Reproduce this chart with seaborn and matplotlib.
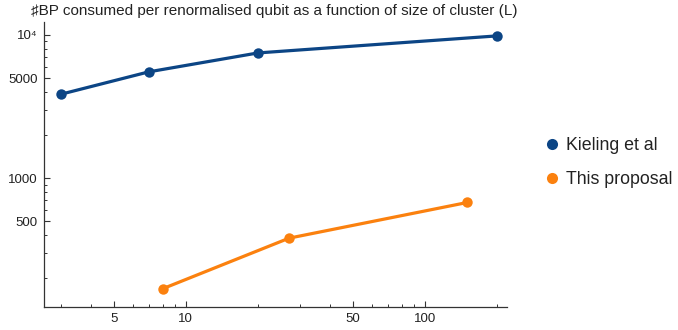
import matplotlib
matplotlib.use("Agg")
import matplotlib.pyplot as plt
from matplotlib.lines import Line2D
from matplotlib.ticker import FixedLocator, FixedFormatter, NullFormatter
import numpy as np
import pandas as pd
import seaborn as sns

# ---- data ----
series_names = ["Kieling et al", "This proposal"]
kieling_L = [3, 7, 20, 200]
kieling_bp = [3850, 5520, 7480, 9840]
proposal_L = [8, 27, 150]
proposal_bp = [169, 381, 676]
colors = ["#0c4585", "#fb810f"]

title = "\u266fBP consumed per renormalised qubit as a function of size of cluster (L)"
x_ticks = [5, 10, 50, 100]
x_labels = ["5", "10", "50", "100"]
y_ticks = [500, 1000, 5000, 10000]
y_labels = ["500", "1000", "5000", "10\u2074"]

df = pd.DataFrame({
    "L": kieling_L + proposal_L,
    "BP": kieling_bp + proposal_bp,
    "series": [series_names[0]] * len(kieling_L) + [series_names[1]] * len(proposal_L),
})

sns.set_style("white")
plt.rcParams["font.family"] = ["Liberation Sans", "DejaVu Sans"]

fig = plt.figure(figsize=(6.78, 3.30), dpi=100)
ax = fig.add_axes([43.5 / 678, 23 / 330, (507 - 43.5) / 678, (307 - 22) / 330])

sns.lineplot(data=df, x="L", y="BP", hue="series", palette=colors, marker="o",
             markersize=7.5, markeredgewidth=0, linewidth=2.3, ax=ax, legend=False,
             sort=True)

ax.set_xscale("log")
ax.set_yscale("log")
ax.set_xlim(2.54, 220)
ax.set_ylim(126, 12300)

for s in ["top", "right"]:
    ax.spines[s].set_visible(False)
for s in ["left", "bottom"]:
    ax.spines[s].set_color("#333333")
    ax.spines[s].set_linewidth(0.9)

ax.xaxis.set_major_locator(FixedLocator(x_ticks))
ax.xaxis.set_major_formatter(FixedFormatter(x_labels))
ax.yaxis.set_major_locator(FixedLocator(y_ticks))
ax.yaxis.set_major_formatter(FixedFormatter(y_labels))
xminor = [m * 10 ** e for e in range(0, 3) for m in range(1, 10)]
xminor = [v for v in xminor if v not in x_ticks]
yminor = [m * 10 ** e for e in range(2, 5) for m in range(1, 10)]
yminor = [v for v in yminor if v not in y_ticks]
ax.xaxis.set_minor_locator(FixedLocator(xminor))
ax.yaxis.set_minor_locator(FixedLocator(yminor))
ax.xaxis.set_minor_formatter(NullFormatter())
ax.yaxis.set_minor_formatter(NullFormatter())

ax.tick_params(which="major", direction="in", length=4, width=0.8, color="#333333",
               labelsize=9.5, pad=4, left=True, bottom=True, labelcolor="#222222")
ax.tick_params(which="minor", direction="in", length=2.5, width=0.7, color="#333333",
               left=True, bottom=True)
ax.set_xlabel("")
ax.set_ylabel("")
ax.grid(False)

fig.text(274 / 678, 1 - 11 / 330, title, ha="center", va="center", fontsize=11,
         color="#222222")

handles = [Line2D([0], [0], marker="o", color=c, linestyle="none", markersize=8,
                  markeredgewidth=0) for c in colors]
fig.legend(handles, series_names, loc="center left",
           bbox_to_anchor=(536 / 678, 1 - 162.5 / 330), frameon=False,
           fontsize=12.8, handletextpad=0.3, labelspacing=0.95, handlelength=1.0,
           borderaxespad=0, labelcolor="#222222")

fig.savefig("out.png", dpi=100)
